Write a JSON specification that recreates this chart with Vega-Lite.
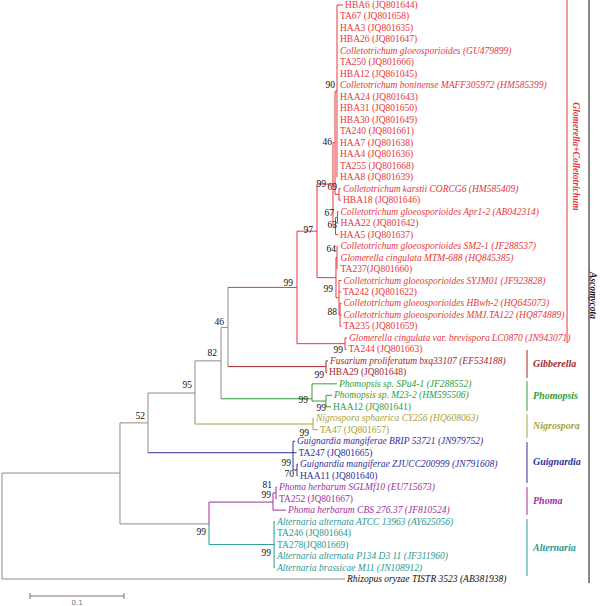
{
  "$schema": "https://vega.github.io/schema/vega-lite/v6.json",
  "width": 600,
  "height": 606,
  "padding": 0,
  "autosize": {"type": "none"},
  "background": "white",
  "config": {"view": {"stroke": null}},
  "datasets": {
    "seg": [
      {"x":0,"x2":0,"y":41.77,"y2":51,"g":"bb"},
      {"x":0,"x2":0.1255,"y":41.77,"y2":41.77,"g":"bb"},
      {"x":0,"x2":0.3649,"y":51,"y2":51,"g":"bb"},
      {"x":0.1255,"x2":0.1255,"y":37.4,"y2":46.2,"g":"bb"},
      {"x":0.1255,"x2":0.1553,"y":37.4,"y2":37.4,"g":"bb"},
      {"x":0.1255,"x2":0.2202,"y":46.2,"y2":46.2,"g":"bb"},
      {"x":0.1553,"x2":0.1553,"y":34.8,"y2":40.0,"g":"bb"},
      {"x":0.1553,"x2":0.2053,"y":34.8,"y2":34.8,"g":"bb"},
      {"x":0.1553,"x2":0.3096,"y":40.0,"y2":40.0,"g":"gui"},
      {"x":0.2053,"x2":0.2053,"y":32.0,"y2":37.5,"g":"bb"},
      {"x":0.2053,"x2":0.2330,"y":32.0,"y2":32.0,"g":"bb"},
      {"x":0.2053,"x2":0.3309,"y":37.5,"y2":37.5,"g":"nig"},
      {"x":0.2330,"x2":0.2330,"y":29.1,"y2":35.3,"g":"bb"},
      {"x":0.2330,"x2":0.2404,"y":29.1,"y2":29.1,"g":"bb"},
      {"x":0.2330,"x2":0.3298,"y":35.3,"y2":35.3,"g":"pmp"},
      {"x":0.2404,"x2":0.2404,"y":25.6,"y2":32.5,"g":"bb"},
      {"x":0.2404,"x2":0.3138,"y":25.6,"y2":25.6,"g":"col"},
      {"x":0.2404,"x2":0.3447,"y":32.5,"y2":32.5,"g":"gib"},
      {"x":0.3138,"x2":0.3138,"y":20.7,"y2":30.5,"g":"col"},
      {"x":0.3138,"x2":0.3351,"y":20.7,"y2":20.7,"g":"col"},
      {"x":0.3138,"x2":0.3649,"y":30.5,"y2":30.5,"g":"col"},
      {"x":0.3351,"x2":0.3351,"y":16.6,"y2":24.75,"g":"col"},
      {"x":0.3351,"x2":0.3521,"y":16.6,"y2":16.6,"g":"col"},
      {"x":0.3351,"x2":0.3553,"y":24.75,"y2":24.75,"g":"col"},
      {"x":0.3521,"x2":0.3521,"y":13,"y2":20.25,"g":"col"},
      {"x":0.3521,"x2":0.3543,"y":13,"y2":13,"g":"col"},
      {"x":0.3521,"x2":0.3548,"y":20.25,"y2":20.25,"g":"col"},
      {"x":0.3543,"x2":0.3543,"y":8.5,"y2":17.5,"g":"col"},
      {"x":0.3543,"x2":0.3564,"y":8.5,"y2":8.5,"g":"col"},
      {"x":0.3543,"x2":0.3585,"y":17.5,"y2":17.5,"g":"col"},
      {"x":0.3564,"x2":0.3564,"y":1,"y2":16,"g":"col"},
      {"x":0.3564,"x2":0.3628,"y":1,"y2":1,"g":"col"},
      {"x":0.3585,"x2":0.3585,"y":17,"y2":18,"g":"col"},
      {"x":0.3585,"x2":0.3606,"y":17,"y2":17,"g":"col"},
      {"x":0.3585,"x2":0.3606,"y":18,"y2":18,"g":"col"},
      {"x":0.3548,"x2":0.3548,"y":19.5,"y2":21,"g":"col"},
      {"x":0.3548,"x2":0.3569,"y":19.5,"y2":19.5,"g":"col"},
      {"x":0.3548,"x2":0.3574,"y":21,"y2":21,"g":"col"},
      {"x":0.3569,"x2":0.3569,"y":19,"y2":20,"g":"col"},
      {"x":0.3569,"x2":0.3580,"y":19,"y2":19,"g":"col"},
      {"x":0.3569,"x2":0.3580,"y":20,"y2":20,"g":"col"},
      {"x":0.3553,"x2":0.3553,"y":23,"y2":26.5,"g":"col"},
      {"x":0.3553,"x2":0.3564,"y":23,"y2":23,"g":"col"},
      {"x":0.3553,"x2":0.3585,"y":26.5,"y2":26.5,"g":"col"},
      {"x":0.3564,"x2":0.3564,"y":22,"y2":24,"g":"col"},
      {"x":0.3585,"x2":0.3585,"y":25,"y2":28,"g":"col"},
      {"x":0.3585,"x2":0.3612,"y":25,"y2":25,"g":"col"},
      {"x":0.3585,"x2":0.3606,"y":26,"y2":26,"g":"col"},
      {"x":0.3585,"x2":0.3596,"y":28,"y2":28,"g":"col"},
      {"x":0.3596,"x2":0.3596,"y":27,"y2":29,"g":"col"},
      {"x":0.3596,"x2":0.3612,"y":27,"y2":27,"g":"col"},
      {"x":0.3596,"x2":0.3612,"y":28,"y2":28,"g":"col"},
      {"x":0.3596,"x2":0.3612,"y":29,"y2":29,"g":"col"},
      {"x":0.3649,"x2":0.3649,"y":30,"y2":31,"g":"col"},
      {"x":0.3649,"x2":0.3670,"y":30,"y2":30,"g":"col"},
      {"x":0.3649,"x2":0.3665,"y":31,"y2":31,"g":"col"},
      {"x":0.3447,"x2":0.3447,"y":32,"y2":33,"g":"gib"},
      {"x":0.3447,"x2":0.3468,"y":32,"y2":32,"g":"gib"},
      {"x":0.3447,"x2":0.3457,"y":33,"y2":33,"g":"gib"},
      {"x":0.3298,"x2":0.3298,"y":34,"y2":35.5,"g":"pmp"},
      {"x":0.3298,"x2":0.3564,"y":34,"y2":34,"g":"pmp"},
      {"x":0.3298,"x2":0.3447,"y":35.5,"y2":35.5,"g":"pmp"},
      {"x":0.3447,"x2":0.3447,"y":35,"y2":36,"g":"pmp"},
      {"x":0.3447,"x2":0.3511,"y":35,"y2":35,"g":"pmp"},
      {"x":0.3447,"x2":0.3500,"y":36,"y2":36,"g":"pmp"},
      {"x":0.3309,"x2":0.3309,"y":37,"y2":38,"g":"nig"},
      {"x":0.3309,"x2":0.3319,"y":37,"y2":37,"g":"nig"},
      {"x":0.3309,"x2":0.3362,"y":38,"y2":38,"g":"nig"},
      {"x":0.3096,"x2":0.3096,"y":39,"y2":41.5,"g":"gui"},
      {"x":0.3096,"x2":0.3117,"y":39,"y2":39,"g":"gui"},
      {"x":0.3096,"x2":0.3133,"y":40,"y2":40,"g":"gui"},
      {"x":0.3096,"x2":0.3138,"y":41.5,"y2":41.5,"g":"gui"},
      {"x":0.3138,"x2":0.3138,"y":41,"y2":42,"g":"gui"},
      {"x":0.3138,"x2":0.3149,"y":41,"y2":41,"g":"gui"},
      {"x":0.3138,"x2":0.3149,"y":42,"y2":42,"g":"gui"},
      {"x":0.2202,"x2":0.2202,"y":44.3,"y2":46.2,"g":"pho"},
      {"x":0.2202,"x2":0.2202,"y":46.2,"y2":48.0,"g":"alt"},
      {"x":0.2202,"x2":0.2883,"y":44.3,"y2":44.3,"g":"pho"},
      {"x":0.2202,"x2":0.2894,"y":48.0,"y2":48.0,"g":"alt"},
      {"x":0.2883,"x2":0.2883,"y":43.5,"y2":45,"g":"pho"},
      {"x":0.2883,"x2":0.2915,"y":43.5,"y2":43.5,"g":"pho"},
      {"x":0.2883,"x2":0.3021,"y":45,"y2":45,"g":"pho"},
      {"x":0.2915,"x2":0.2915,"y":43,"y2":44,"g":"pho"},
      {"x":0.2915,"x2":0.2926,"y":43,"y2":43,"g":"pho"},
      {"x":0.2915,"x2":0.2926,"y":44,"y2":44,"g":"pho"},
      {"x":0.2894,"x2":0.2894,"y":46,"y2":50,"g":"alt"},
      {"x":0.2894,"x2":0.2904,"y":46,"y2":46,"g":"alt"},
      {"x":0.2894,"x2":0.2904,"y":47,"y2":47,"g":"alt"},
      {"x":0.2894,"x2":0.2904,"y":48,"y2":48,"g":"alt"},
      {"x":0.2894,"x2":0.2904,"y":49,"y2":49,"g":"alt"},
      {"x":0.2894,"x2":0.2904,"y":50,"y2":50,"g":"alt"},
      {"x":0.0298,"x2":0.1298,"y":52.48,"y2":52.48,"g":"sb"},
      {"x":0.0298,"x2":0.0298,"y":52.22,"y2":52.74,"g":"sb"},
      {"x":0.1298,"x2":0.1298,"y":52.22,"y2":52.74,"g":"sb"}
    ],
    "leaf": [
      {"y":1,"x":0.3628,"label":"HBA6 (JQ801644)","kind":"iso","g":"col"},
      {"y":2,"x":0.3574,"label":"TA67 (JQ801658)","kind":"iso","g":"col"},
      {"y":3,"x":0.3574,"label":"HAA3 (JQ801635)","kind":"iso","g":"col"},
      {"y":4,"x":0.3574,"label":"HBA26 (JQ801647)","kind":"iso","g":"col"},
      {"y":5,"x":0.3574,"label":"Colletotrichum gloeosporioides (GU479899)","kind":"ref","g":"col"},
      {"y":6,"x":0.3574,"label":"TA250 (JQ801666)","kind":"iso","g":"col"},
      {"y":7,"x":0.3574,"label":"HBA12 (JQ861045)","kind":"iso","g":"col"},
      {"y":8,"x":0.3574,"label":"Colletotrichum boninense MAFF305972 (HM585399)","kind":"ref","g":"col"},
      {"y":9,"x":0.3574,"label":"HAA24 (JQ801643)","kind":"iso","g":"col"},
      {"y":10,"x":0.3574,"label":"HBA31 (JQ801650)","kind":"iso","g":"col"},
      {"y":11,"x":0.3574,"label":"HBA30 (JQ801649)","kind":"iso","g":"col"},
      {"y":12,"x":0.3574,"label":"TA240 (JQ801661)","kind":"iso","g":"col"},
      {"y":13,"x":0.3574,"label":"HAA7 (JQ801638)","kind":"iso","g":"col"},
      {"y":14,"x":0.3574,"label":"HAA4 (JQ801636)","kind":"iso","g":"col"},
      {"y":15,"x":0.3574,"label":"TA255 (JQ801668)","kind":"iso","g":"col"},
      {"y":16,"x":0.3574,"label":"HAA8 (JQ801639)","kind":"iso","g":"col"},
      {"y":17,"x":0.3606,"label":"Colletotrichum karstii CORCG6 (HM585409)","kind":"ref","g":"col"},
      {"y":18,"x":0.3606,"label":"HBA18 (JQ801646)","kind":"iso","g":"col"},
      {"y":19,"x":0.3580,"label":"Colletotrichum gloeosporioides Apr1-2 (AB042314)","kind":"ref","g":"col"},
      {"y":20,"x":0.3580,"label":"HAA22 (JQ801642)","kind":"iso","g":"col"},
      {"y":21,"x":0.3574,"label":"HAA5 (JQ801637)","kind":"iso","g":"col"},
      {"y":22,"x":0.3580,"label":"Colletotrichum gloeosporioides SM2-1 (JF288537)","kind":"ref","g":"col"},
      {"y":23,"x":0.3580,"label":"Glomerella cingulata MTM-688 (HQ845385)","kind":"ref","g":"col"},
      {"y":24,"x":0.3580,"label":"TA237(JQ801660)","kind":"iso","g":"col"},
      {"y":25,"x":0.3612,"label":"Colletotrichum gloeosporioides SYJM01 (JF923828)","kind":"ref","g":"col"},
      {"y":26,"x":0.3606,"label":"TA242 (JQ801622)","kind":"iso","g":"col"},
      {"y":27,"x":0.3612,"label":"Colletotrichum gloeosporioides HBwh-2 (HQ645073)","kind":"ref","g":"col"},
      {"y":28,"x":0.3612,"label":"Colletotrichum gloeosporioides MMJ.TA122 (HQ874889)","kind":"ref","g":"col"},
      {"y":29,"x":0.3612,"label":"TA235 (JQ801659)","kind":"iso","g":"col"},
      {"y":30,"x":0.3670,"label":"Glomerella cingulata var. brevispora LC0870 (JN943071)","kind":"ref","g":"col"},
      {"y":31,"x":0.3665,"label":"TA244 (JQ801663)","kind":"iso","g":"col"},
      {"y":32,"x":0.3468,"label":"Fusarium proliferatum bxq33107 (EF534188)","kind":"ref","g":"gib"},
      {"y":33,"x":0.3457,"label":"HBA29 (JQ801648)","kind":"iso","g":"gib"},
      {"y":34,"x":0.3564,"label":"Phomopsis sp. SPu4-1 (JF288552)","kind":"ref","g":"pmp"},
      {"y":35,"x":0.3511,"label":"Phomopsis sp. M23-2 (HM595506)","kind":"ref","g":"pmp"},
      {"y":36,"x":0.3500,"label":"HAA12 (JQ801641)","kind":"iso","g":"pmp"},
      {"y":37,"x":0.3319,"label":"Nigrospora sphaerica CY256 (HQ608063)","kind":"ref","g":"nig"},
      {"y":38,"x":0.3362,"label":"TA47 (JQ801657)","kind":"iso","g":"nig"},
      {"y":39,"x":0.3117,"label":"Guignardia mangiferae BRIP 53721 (JN979752)","kind":"ref","g":"gui"},
      {"y":40,"x":0.3133,"label":"TA247 (JQ801665)","kind":"iso","g":"gui"},
      {"y":41,"x":0.3149,"label":"Guignardia mangiferae ZJUCC200999 (JN791608)","kind":"ref","g":"gui"},
      {"y":42,"x":0.3149,"label":"HAA11 (JQ801640)","kind":"iso","g":"gui"},
      {"y":43,"x":0.2926,"label":"Phoma herbarum SGLMf10 (EU715673)","kind":"ref","g":"pho"},
      {"y":44,"x":0.2926,"label":"TA252 (JQ801667)","kind":"iso","g":"pho"},
      {"y":45,"x":0.3021,"label":"Phoma herbarum CBS 276.37 (JF810524)","kind":"ref","g":"pho"},
      {"y":46,"x":0.2904,"label":"Alternaria alternata ATCC 13963 (AY625056)","kind":"ref","g":"alt"},
      {"y":47,"x":0.2904,"label":"TA246 (JQ801664)","kind":"iso","g":"alt"},
      {"y":48,"x":0.2904,"label":"TA278(JQ801669)","kind":"iso","g":"alt"},
      {"y":49,"x":0.2904,"label":"Alternaria alternata P134 D3 11 (JF311960)","kind":"ref","g":"alt"},
      {"y":50,"x":0.2904,"label":"Alternaria brassicae M11 (JN108912)","kind":"ref","g":"alt"},
      {"y":51,"x":0.3649,"label":"Rhizopus oryzae TISTR 3523 (AB381938)","kind":"ref","g":"out"}
    ],
    "boot": [
      {"x":0.1521,"y":36.80,"t":"52"},
      {"x":0.2021,"y":34.10,"t":"95"},
      {"x":0.2287,"y":31.31,"t":"82"},
      {"x":0.2362,"y":28.61,"t":"46"},
      {"x":0.2170,"y":46.91,"t":"99"},
      {"x":0.3255,"y":35.41,"t":"99"},
      {"x":0.3266,"y":38.28,"t":"99"},
      {"x":0.3074,"y":40.90,"t":"99"},
      {"x":0.3106,"y":41.85,"t":"70"},
      {"x":0.2872,"y":42.80,"t":"81"},
      {"x":0.2862,"y":43.68,"t":"99"},
      {"x":0.2862,"y":48.74,"t":"99"},
      {"x":0.3096,"y":25.22,"t":"99"},
      {"x":0.3309,"y":20.60,"t":"97"},
      {"x":0.3447,"y":16.59,"t":"99"},
      {"x":0.3564,"y":16.85,"t":"69"},
      {"x":0.3543,"y":7.97,"t":"90"},
      {"x":0.3511,"y":12.93,"t":"46"},
      {"x":0.3532,"y":19.12,"t":"67"},
      {"x":0.3564,"y":20.16,"t":"63"},
      {"x":0.3553,"y":22.25,"t":"64"},
      {"x":0.3521,"y":25.74,"t":"99"},
      {"x":0.3564,"y":27.74,"t":"88"},
      {"x":0.3628,"y":31.05,"t":"99"},
      {"x":0.3426,"y":33.23,"t":"99"},
      {"x":0.3447,"y":36.10,"t":"99"}
    ],
    "bar": [
      {"x":0.6011,"y":0.5645,"y2":30.44,"g":"col"},
      {"x":0.6245,"y":0.5645,"y2":51.35,"g":"out"},
      {"x":0.5585,"y":31.05,"y2":33.49,"g":"gib"},
      {"x":0.5585,"y":33.75,"y2":36.37,"g":"pmp"},
      {"x":0.5585,"y":36.63,"y2":38.72,"g":"nig"},
      {"x":0.5585,"y":39.07,"y2":42.64,"g":"gui"},
      {"x":0.5585,"y":42.99,"y2":45.43,"g":"pho"},
      {"x":0.5585,"y":45.77,"y2":50.74,"g":"alt"}
    ],
    "clab": [
      {"x":0.5649,"y":32.27,"t":"Gibberella","g":"gib"},
      {"x":0.5649,"y":35.06,"t":"Phomopsis","g":"pmp"},
      {"x":0.5649,"y":37.67,"t":"Nigrospora","g":"nig"},
      {"x":0.5649,"y":40.81,"t":"Guignardia","g":"gui"},
      {"x":0.5649,"y":44.21,"t":"Phoma","g":"pho"},
      {"x":0.5649,"y":48.30,"t":"Alternaria","g":"alt"}
    ],
    "vlab": [
      {"x":0.6106,"y":14.2,"t":"Glomerella+Colletotrichum","g":"col"},
      {"x":0.6287,"y":26.3,"t":"Ascomycota","g":"out"}
    ],
    "sbt": [
      {"x":0.0798,"y":53.09,"t":"0.1","g":"sb"}
    ]
  },
  "encoding": {
    "x": {"field": "x", "type": "quantitative", "axis": null, "scale": {"domain": [0, 0.6383], "range": [2, 602], "nice": false, "zero": false}},
    "y": {"field": "y", "type": "quantitative", "axis": null, "scale": {"domain": [1, 51], "range": [5, 579], "nice": false, "zero": false}},
    "color": {"field": "g", "type": "nominal", "legend": null, "scale": {"domain": ["col","gib","pmp","nig","gui","pho","alt","bb","out","sb"], "range": ["#e8383d","#a3282c","#2f9e37","#a8a23c","#30309e","#a030a0","#2a9a98","#8c8c8c","#111111","#777777"]}}
  },
  "layer": [
    {
      "data": {"name": "seg"},
      "mark": {"type": "rule", "strokeWidth": 1},
      "encoding": {"x2": {"field": "x2"}, "y2": {"field": "y2"}}
    },
    {
      "data": {"name": "bar"},
      "mark": {"type": "rule", "strokeWidth": 1},
      "encoding": {"y2": {"field": "y2"}}
    },
    {
      "data": {"name": "leaf"},
      "transform": [{"filter": "datum.kind == 'ref'"}],
      "mark": {"type": "text", "align": "left", "baseline": "middle", "dx": 2, "font": "Liberation Serif", "fontSize": 9.5, "fontStyle": "italic"},
      "encoding": {"text": {"field": "label"}}
    },
    {
      "data": {"name": "leaf"},
      "transform": [{"filter": "datum.kind == 'iso'"}],
      "mark": {"type": "text", "align": "left", "baseline": "middle", "dx": 2, "font": "Liberation Serif", "fontSize": 9.5},
      "encoding": {"text": {"field": "label"}}
    },
    {
      "data": {"name": "boot"},
      "mark": {"type": "text", "align": "right", "baseline": "middle", "font": "Liberation Serif", "fontSize": 9.5, "color": "#111111"},
      "encoding": {"text": {"field": "t"}, "color": {"value": "#111111"}}
    },
    {
      "data": {"name": "clab"},
      "mark": {"type": "text", "align": "left", "baseline": "middle", "font": "Liberation Serif", "fontSize": 10, "fontStyle": "italic", "fontWeight": "bold"},
      "encoding": {"text": {"field": "t"}}
    },
    {
      "data": {"name": "vlab"},
      "mark": {"type": "text", "align": "center", "baseline": "middle", "angle": 90, "font": "Liberation Serif", "fontSize": 9.5, "fontStyle": "italic", "fontWeight": "bold"},
      "encoding": {"text": {"field": "t"}}
    },
    {
      "data": {"name": "sbt"},
      "mark": {"type": "text", "align": "center", "baseline": "middle", "font": "DejaVu Sans", "fontSize": 7},
      "encoding": {"text": {"field": "t"}}
    }
  ]
}
